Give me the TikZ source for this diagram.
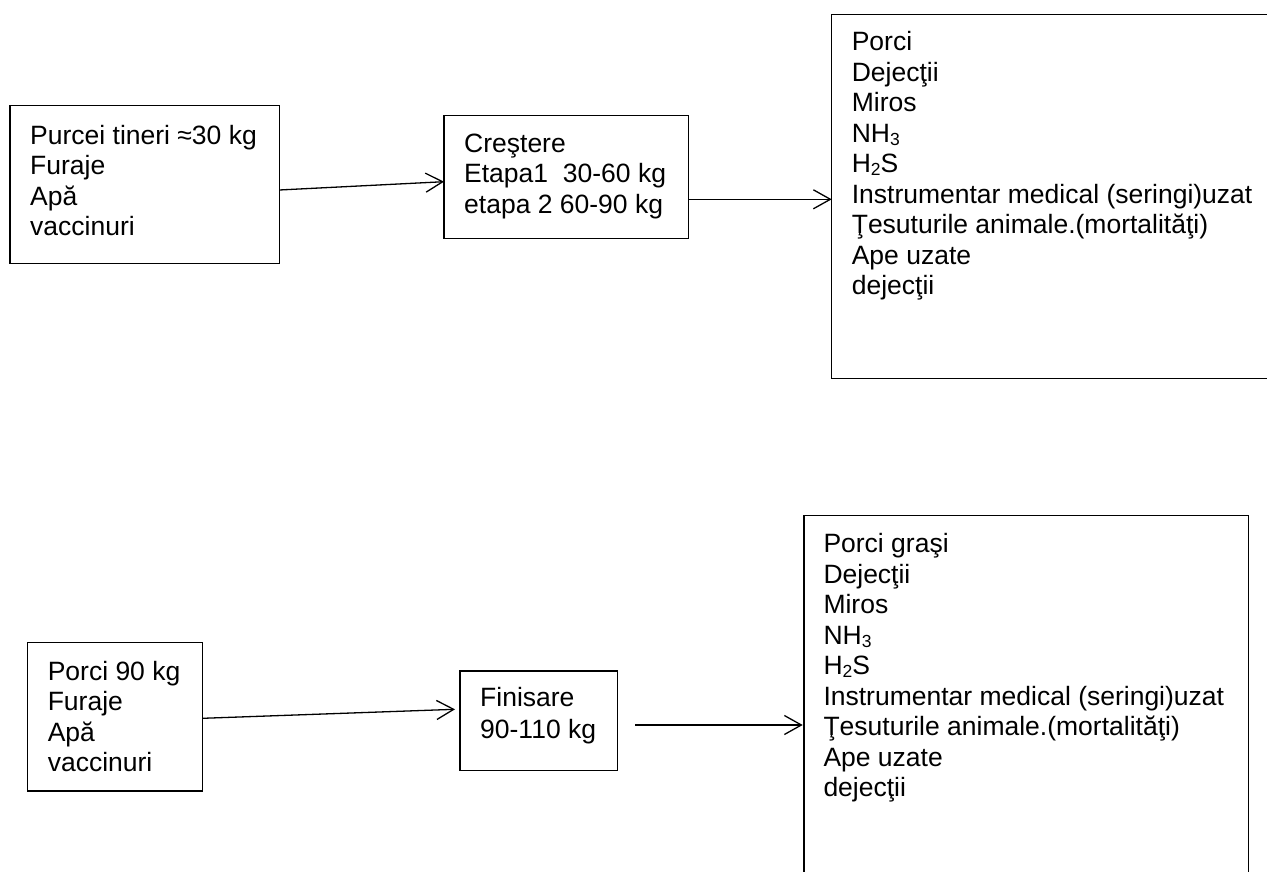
\documentclass[tikz,border=0pt]{standalone}
\usepackage{fontspec}
\setmainfont{Liberation Sans}
\usetikzlibrary{arrows.meta}
\newcommand\subsc[1]{\raisebox{-0.12em}{\fontsize{17.5}{17.5}\selectfont #1}}
\newcommand\boxfont{\fontsize{26.5}{30.5}\selectfont}
\begin{document}
\begin{tikzpicture}[x=1pt,y=-1pt,
  box/.style={draw, line width=1.2pt, anchor=north west, inner sep=0pt, outer sep=0pt},
  txt/.style={anchor=north west, inner sep=0pt, outer sep=0pt, align=left, font=\boxfont},
  arr/.style={line width=1.3pt, -{Straight Barb[length=17pt,width=19pt]}}]
\useasboundingbox (0,0) rectangle (1267,872);
\clip (0,0) rectangle (1267,872);

% boxes
\node[box, minimum width=269.3pt, minimum height=157.6pt] (b1) at (10,105.7) {};
\node[box, minimum width=244.3pt, minimum height=122.6pt] (b2) at (444,115.7) {};
\node[box, minimum width=500pt,   minimum height=363.6pt] (b3) at (831.7,14.7) {};
\node[box, minimum width=175pt,   minimum height=148.3pt] (b4) at (27.7,642.7) {};
\node[box, minimum width=157.7pt, minimum height=99.7pt]  (b5) at (460,671) {};
\node[box, minimum width=444.3pt, minimum height=400pt]   (b6) at (804,515.7) {};

% texts
\node[txt] (t1) at (30.2,122.65) {\strut Purcei tineri ≈30 kg\\Furaje\\Apă\\vaccinuri};
\node[txt] (t2) at (464.2,130.95) {\strut Creştere\\Etapa1\ \ 30-60 kg\\etapa 2 60-90 kg};
\node[txt] (t3) at (851.8,29.35) {\strut Porci\\Dejecţii\\Miros\\NH\subsc{3}\\H\subsc{2}S\\Instrumentar medical (seringi)uzat\\Ţesuturile animale.(mortalităţi)\\Ape uzate\\dejecţii};
\node[txt] (t4) at (47.8,658.65) {\strut Porci 90 kg\\Furaje\\Apă\\vaccinuri};
\node[txt, font=\fontsize{26.5}{31.7}\selectfont] (t5) at (480.2,684.65) {\strut Finisare\\90-110 kg};
\node[txt] (t6) at (823.5,531.35) {\strut Porci graşi\\Dejecţii\\Miros\\NH\subsc{3}\\H\subsc{2}S\\Instrumentar medical (seringi)uzat\\Ţesuturile animale.(mortalităţi)\\Ape uzate\\dejecţii};

% connectors
\draw[arr] ([yshift=-5.5pt]b1.east) -- ([yshift=-4.7pt]b2.west);
\coordinate (a2s) at ([yshift=-22.3pt]b2.east);
\draw[arr] (a2s) -- (a2s -| b3.west);
\draw[arr] ([yshift=-1.45pt]b4.east) -- ([xshift=-5pt,yshift=11.55pt]b5.west);
\coordinate (a4s) at ([xshift=17.3pt,yshift=-4.15pt]b5.east);
\coordinate (a4t) at (a4s -| b6.west);
\draw[arr] (a4s) -- ([xshift=-1.3pt]a4t);
\end{tikzpicture}
\end{document}
